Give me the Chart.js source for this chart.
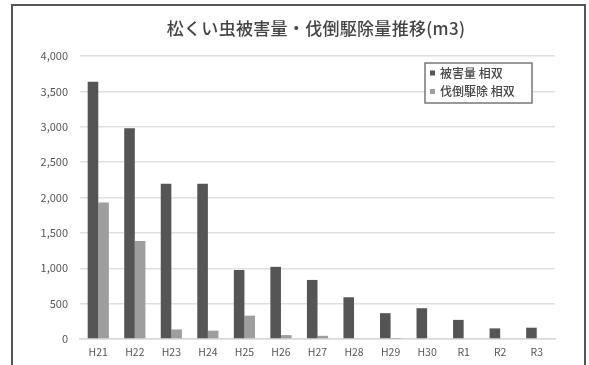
<!DOCTYPE html>
<html>
<head>
<meta charset="utf-8">
<script src="https://cdn.jsdelivr.net/npm/chart.js@4"></script>
<style>
  html, body { margin: 0; padding: 0; background: #fff; }
  #wrap { position: relative; width: 589px; height: 365px; overflow: hidden; }
  #frame { position: absolute; left: 11px; top: 4px; width: 571px; height: 400px; border: 2px solid #555; pointer-events: none; }
  canvas { position: absolute; left: 0; top: 0; }
</style>
</head>
<body>
<div id="wrap">
  <canvas id="chart" width="589" height="365"></canvas>
  <div id="frame"></div>
</div>
<script>
// --- Data ---
const labels = ['H21', 'H22', 'H23', 'H24', 'H25', 'H26', 'H27', 'H28', 'H29', 'H30', 'R1', 'R2', 'R3'];
const damage = [3635, 2980, 2195, 2195, 975, 1020, 835, 590, 365, 435, 270, 150, 160];
const felling = [1930, 1385, 135, 118, 330, 55, 45, 10, 5, 0, 0, 0, 0];
const seriesNames = ['被害量 相双', '伐倒駆除 相双'];
const titleText = '松くい虫被害量・伐倒駆除量推移(m3)';
const yTicks = [0, 500, 1000, 1500, 2000, 2500, 3000, 3500, 4000];

const FONT = "'Noto Sans CJK JP', 'Noto Sans', sans-serif";

// title + boxed legend drawn by hand
const decorPlugin = {
    id: 'decor',
    afterDraw(chart) {
        const ctx = chart.ctx;
        ctx.save();
        ctx.fillStyle = '#444';
        ctx.font = `500 17px ${FONT}`;
        ctx.letterSpacing = '0.3px';
        ctx.textAlign = 'center';
        ctx.textBaseline = 'middle';
        ctx.fillText(titleText, 316, 29);
        ctx.letterSpacing = '0px';

        // legend box
        ctx.fillStyle = '#fff';
        ctx.fillRect(425, 63, 107, 40);
        ctx.strokeStyle = '#777';
        ctx.lineWidth = 1.5;
        ctx.strokeRect(425, 63, 107, 40);
        ctx.font = `500 12px ${FONT}`;
        ctx.textAlign = 'left';
        chart.data.datasets.forEach((ds, i) => {
            const y = 73 + i * 18.5;
            ctx.fillStyle = ds.backgroundColor;
            ctx.fillRect(430, y - 2.5, 5, 5);
            ctx.fillStyle = '#444';
            ctx.fillText(ds.label, 440, y);
        });
        ctx.restore();
    }
};

new Chart(document.getElementById('chart'), {
    type: 'bar',
    data: {
        labels: labels,
        datasets: [
            { label: seriesNames[0], data: damage, backgroundColor: '#555555', barPercentage: 1, categoryPercentage: 0.58 },
            { label: seriesNames[1], data: felling, backgroundColor: '#9e9e9e', barPercentage: 1, categoryPercentage: 0.58 }
        ]
    },
    options: {
        responsive: false,
        animation: false,
        layout: { padding: { top: 56, right: 34, left: 0, bottom: 0 } },
        plugins: { legend: { display: false }, title: { display: false }, tooltip: { enabled: false } },
        scales: {
            x: {
                grid: { display: false, drawTicks: false },
                border: { display: true, color: '#d8d8d8', width: 1.5 },
                ticks: { color: '#555', font: { family: FONT, size: 10.5 }, padding: 7, maxRotation: 0, autoSkip: false },
                afterFit: s => { s.height = 26; }
            },
            y: {
                min: 0, max: 4000,
                afterBuildTicks: s => { s.ticks = yTicks.map(v => ({ value: v })); },
                grid: { color: '#e0e0e0', lineWidth: 1.5, drawTicks: false },
                border: { display: false },
                ticks: { color: '#555', font: { family: FONT, size: 11 }, padding: 12, callback: v => v.toLocaleString('en-US') },
                afterFit: s => { s.width = 80; }
            }
        }
    },
    plugins: [decorPlugin]
});
</script>
</body>
</html>
